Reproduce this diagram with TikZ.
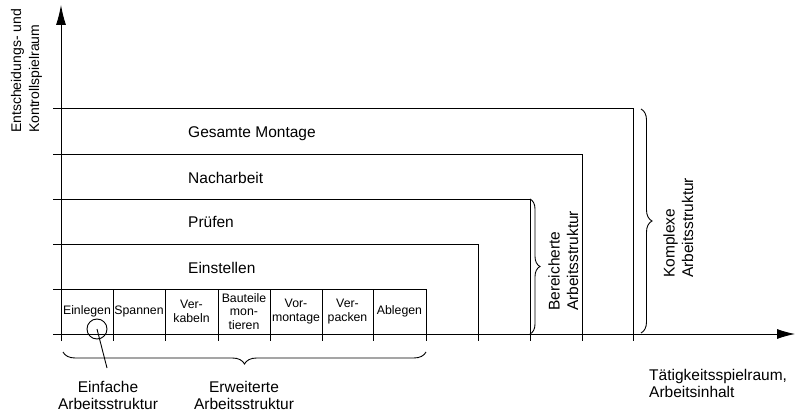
\documentclass[tikz,border=0pt]{standalone}
\usepackage{fontspec}
\setmainfont{Liberation Sans}
\usetikzlibrary{arrows.meta,decorations.pathreplacing}
\begin{document}
\begin{tikzpicture}[x=1pt,y=-1pt,
  line/.style={line width=0.9pt},
  lbl/.style={font=\fontsize{15.5}{17}\selectfont, inner sep=0pt},
  rlbl/.style={font=\fontsize{15.5}{18.5}\selectfont, inner sep=0pt, align=left, rotate=90, anchor=base west},
  cell/.style={font=\fontsize{12.3}{13.5}\selectfont, align=center, inner sep=0pt},
  axlbl/.style={font=\fontsize{14}{18}\selectfont, inner sep=0pt, align=left, rotate=90, anchor=base west},
  brc/.style={line width=0.9pt, decorate, decoration={brace, amplitude=#1}},
  ]
\useasboundingbox (0,0) rectangle (795,414);

% axes
\coordinate (ybot) at (61,341);
\coordinate (ytop) at (61,5);
\coordinate (xbeg) at (53,334);
\coordinate (xend) at (795,334);
\draw[line, -{Latex[length=20pt,width=10pt]}] (ybot) -- (ytop);
\draw[line, -{Latex[length=18pt,width=10pt]}] (xbeg) -- (xend);

% nested activity levels
\draw[line] (53,108) -- (633,108) -- (633,341);
\draw[line] (53,154) -- (582,154) -- (582,341);
\draw[line] (53,199) -- (530,199) -- (530,341);
\draw[line] (53,244) -- (478,244) -- (478,341);
\draw[line] (53,289) -- (426,289) -- (426,341);
\foreach \x in {113,165,218,270,322,373}
  \draw[line] (\x,289) -- (\x,341);

\node[lbl, anchor=base west] (gm) at (188,138) {Gesamte Montage};
\node[lbl, anchor=base west] (na) at (188,184) {Nacharbeit};
\node[lbl, anchor=base west] (pr) at (188,228) {Prüfen};
\node[lbl, anchor=base west] (es) at (188,273) {Einstellen};

% single operations
\node[cell] (c1) at (87,311.5) {Einlegen};
\node[cell] (c2) at (139,311.5) {Spannen};
\node[cell] (c3) at (191.5,311.5) {Ver-\\kabeln};
\node[cell] (c4) at (244,311.5) {Bauteile\\mon-\\tieren};
\node[cell] (c5) at (296,311.5) {Vor-\\montage};
\node[cell] (c6) at (347.5,311.5) {Ver-\\packen};
\node[cell] (c7) at (399.5,311.5) {Ablegen};

% simple structure marker
\node[circle, draw, line, minimum size=20pt, inner sep=0pt] (pick) at (97,329) {};
\coordinate (pickend) at (107,368);
\draw[line] (pick.center) -- (pickend);

% braces
\draw[brc=12pt] (426,352) -- (63,352);
\draw[brc=10pt] (530,199) -- (530,334);
\draw[brc=11pt] (641,109) -- (641,333);

% labels (base anchor sits on the last line)
\node[lbl, align=center, anchor=base] (einf) at (108,409) {Einfache\\Arbeitsstruktur};
\node[lbl, align=center, anchor=base] (erw) at (244,409) {Erweiterte\\Arbeitsstruktur};
\node[rlbl] (ber) at (578,311) {Bereicherte\\Arbeitsstruktur};
\node[rlbl] (kom) at (693,278) {Komplexe\\Arbeitsstruktur};
\node[lbl, align=left, anchor=base west] (xlab) at (649,397) {Tätigkeitsspielraum,\\Arbeitsinhalt};
\node[axlbl] (ylab) at (39,133) {Entscheidungs- und\\Kontrollspielraum};
\end{tikzpicture}
\end{document}
